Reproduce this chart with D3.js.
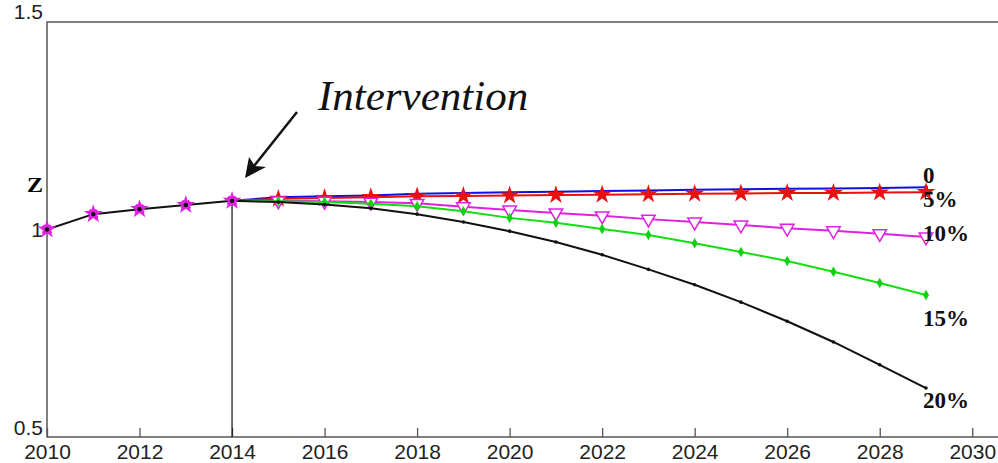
<!DOCTYPE html>
<html><head><meta charset="utf-8">
<script src="https://cdn.jsdelivr.net/npm/d3@7/dist/d3.min.js"></script>
<style>body{margin:0;background:#fff}svg{display:block}</style>
</head><body><svg id="c" width="998" height="463"></svg>
<script>
const histYears = [2010, 2011, 2012, 2013, 2014];
const histValues = [1.000, 1.037, 1.049, 1.059, 1.069];
const scenYears = [2014, 2015, 2016, 2017, 2018, 2019, 2020, 2021, 2022, 2023, 2024, 2025, 2026, 2027, 2028, 2029];
const s0 = [1.069, 1.078, 1.080, 1.082, 1.086, 1.088, 1.090, 1.091, 1.093, 1.094, 1.096, 1.097, 1.098, 1.099, 1.100, 1.102];
const s5 = [1.069, 1.074, 1.076, 1.078, 1.080, 1.081, 1.082, 1.083, 1.084, 1.085, 1.086, 1.087, 1.088, 1.088, 1.089, 1.090];
const s10 = [1.069, 1.069, 1.068, 1.066, 1.063, 1.055, 1.047, 1.040, 1.033, 1.025, 1.018, 1.011, 1.003, 0.997, 0.990, 0.982];
const s15 = [1.069, 1.068, 1.066, 1.062, 1.056, 1.044, 1.028, 1.016, 1.001, 0.987, 0.967, 0.946, 0.924, 0.898, 0.871, 0.842];
const s20 = [1.069, 1.066, 1.060, 1.051, 1.037, 1.018, 0.996, 0.970, 0.939, 0.904, 0.867, 0.825, 0.779, 0.729, 0.674, 0.618];
const seriesLabels = ["0", "5%", "10%", "15%", "20%"];
const xTicks = [2010, 2012, 2014, 2016, 2018, 2020, 2022, 2024, 2026, 2028, 2030];
const yTicks = [0.5, 1, 1.5];
const interventionYear = 2014;

const svg = d3.select("#c");
const L = 47, T = 22, B = 437, R = 1000;
const x = d3.scaleLinear().domain([2010, 2030.6]).range([L, R]);
const y = d3.scaleLinear().domain([0.5, 1.5]).range([B, T]);

// frame
svg.append("path").attr("d", `M${R},${T}H${L}V${B}H${R}`).attr("fill","none").attr("stroke","#555").attr("stroke-width",1.5);

// x axis
const xAxis = d3.axisBottom(x).tickValues(xTicks).tickFormat(d3.format("d")).tickSizeInner(-9).tickSizeOuter(0).tickPadding(7);
const gx = svg.append("g").attr("transform",`translate(0,${B})`).call(xAxis);
gx.select(".domain").remove();
gx.selectAll(".tick line").attr("stroke","#555").attr("stroke-width",1.3);
gx.selectAll("text").attr("font-family","Liberation Sans, Arial, sans-serif").attr("font-size",21).attr("fill","#222");

// y axis labels
const yAxis = d3.axisLeft(y).tickValues(yTicks).tickFormat(d => d === 1 ? "1" : d3.format(".1f")(d)).tickSize(0).tickPadding(4);
const gy = svg.append("g").attr("transform",`translate(${L},0)`).call(yAxis);
gy.select(".domain").remove();
gy.selectAll("text").attr("font-family","Liberation Sans, Arial, sans-serif").attr("font-size",21).attr("fill","#222");
gy.selectAll(".tick").filter(d => d === 1.5).select("text").attr("dy","-0.15em");
gy.selectAll(".tick").filter(d => d === 0.5).select("text").attr("dy","-0.1em");

// z label
svg.append("text").attr("x",27).attr("y",192).attr("font-family","Liberation Serif, serif").attr("font-weight","bold").attr("font-size",20).attr("textLength",16).attr("lengthAdjust","spacingAndGlyphs").text("Z");

// intervention vertical line
svg.append("line").attr("x1",x(interventionYear)).attr("x2",x(interventionYear)).attr("y1",y(histValues[4])).attr("y2",B).attr("stroke","#111").attr("stroke-width",1.2);

const line = d3.line().x(d => x(d[0])).y(d => y(d[1]));
function pts(vals){ return scenYears.map((yr,i)=>[yr, vals[i]]); }

const star = d3.symbol().type(d3.symbolStar).size(110)();
const tri = d3.symbol().type(d3.symbolTriangle).size(80)();
const diamond = d3.symbol().type(d3.symbolDiamond).size(32)();

function drawSeries(vals, color, markerFn){
  const p = pts(vals);
  svg.append("path").datum(p).attr("d", line).attr("fill","none").attr("stroke",color).attr("stroke-width",2);
  const g = svg.append("g");
  p.slice(1).forEach(d => markerFn(g, x(d[0]), y(d[1])));
}

drawSeries(s0, "#1010e0", (g,cx,cy)=>g.append("circle").attr("cx",cx).attr("cy",cy).attr("r",2).attr("fill","#1010e0"));
drawSeries(s5, "#e81010", (g,cx,cy)=>g.append("path").attr("d",star).attr("transform",`translate(${cx},${cy})`).attr("fill","#e81010"));
drawSeries(s10, "#e020e0", (g,cx,cy)=>g.append("path").attr("d",tri).attr("transform",`translate(${cx},${cy}) rotate(180)`).attr("fill","#fff").attr("stroke","#e020e0").attr("stroke-width",1.5));
drawSeries(s15, "#10e010", (g,cx,cy)=>g.append("path").attr("d",diamond).attr("transform",`translate(${cx},${cy})`).attr("fill","#10d010"));
drawSeries(s20, "#111", (g,cx,cy)=>g.append("circle").attr("cx",cx).attr("cy",cy).attr("r",1.8).attr("fill","#111"));

// history
const hp = histYears.map((yr,i)=>[yr, histValues[i]]);
svg.append("path").datum(hp).attr("d", line).attr("fill","none").attr("stroke","#111").attr("stroke-width",2);
hp.forEach(d=>{
  const cx = x(d[0]), cy = y(d[1]);
  svg.append("path").attr("d",star).attr("transform",`translate(${cx},${cy})`).attr("fill","#e020e0");
  svg.append("path").attr("d",d3.symbol().type(d3.symbolCross).size(70)()).attr("transform",`translate(${cx},${cy}) rotate(45)`).attr("fill","#e020e0");
  svg.append("circle").attr("cx",cx).attr("cy",cy).attr("r",2.2).attr("fill","#111");
});

// end labels
const labelY = [175, 199, 233, 318, 400];
seriesLabels.forEach((t,i)=>{
  svg.append("text").attr("x",923).attr("y",labelY[i]+8).attr("font-family","Liberation Serif, serif").attr("font-weight","bold").attr("font-size",23).attr("fill","#111").text(t);
});

// arrow + annotation
svg.append("line").attr("x1",297).attr("y1",112).attr("x2",250).attr("y2",171).attr("stroke","#111").attr("stroke-width",2.5);
svg.append("path").attr("d","M245,178 L249,157 L255,166 L266,167 Z").attr("fill","#111");
svg.append("text").attr("x",318).attr("y",110).attr("font-family","Liberation Serif, serif").attr("font-style","italic").attr("font-size",43).attr("fill","#111").text("Intervention");
</script></body></html>
